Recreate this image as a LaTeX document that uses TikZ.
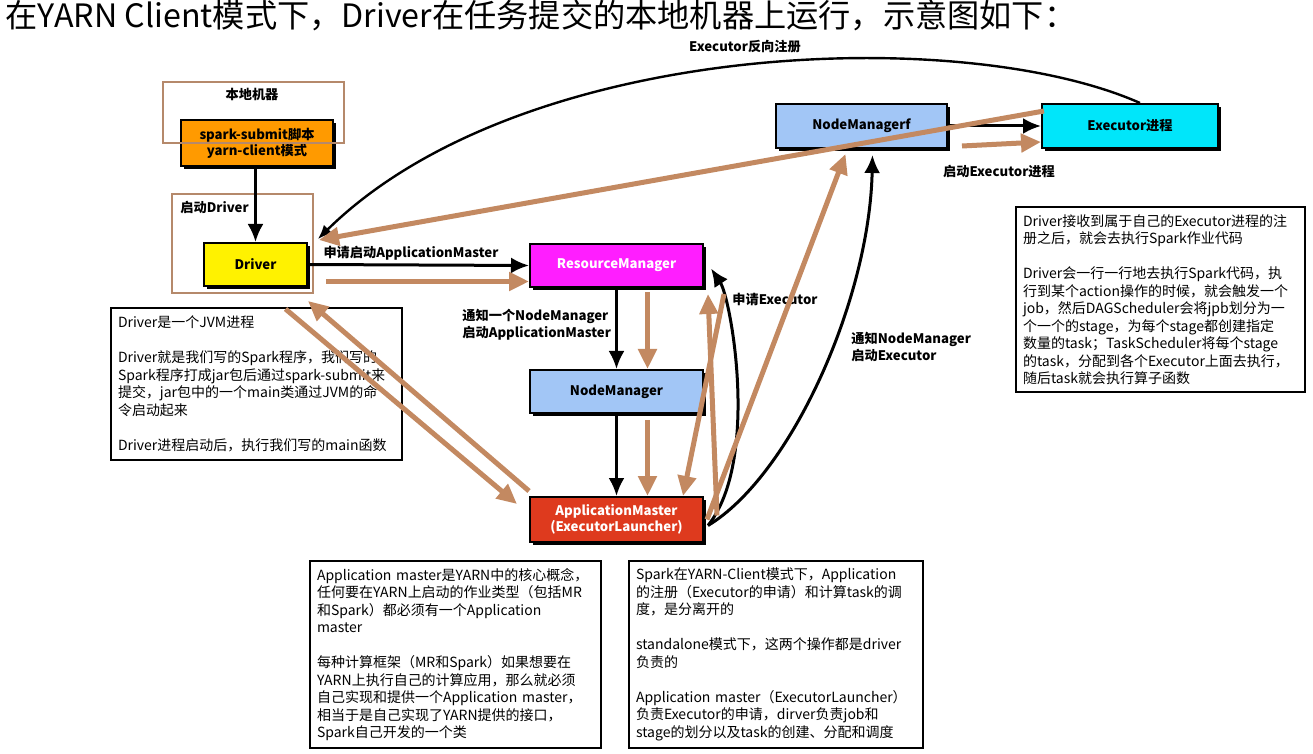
\documentclass[tikz,border=0pt]{standalone}
\usepackage{fontspec}
\setmainfont{Noto Sans CJK SC}
\usepackage{tikz}
\usetikzlibrary{arrows.meta,positioning,calc,shadows}
\definecolor{submitorange}{HTML}{FF9A00}
\definecolor{driveryellow}{HTML}{FFF200}
\definecolor{rmmagenta}{HTML}{FF1EFF}
\definecolor{nmblue}{HTML}{A2C6F6}
\definecolor{amred}{HTML}{DE3A1E}
\definecolor{execcyan}{HTML}{00E6FA}
\definecolor{tan}{HTML}{C38961}
\definecolor{framebrown}{HTML}{B5896B}

\begin{document}
\begin{tikzpicture}[x=0.5pt,y=-0.5pt,every node/.style={font=\fontsize{6.6}{8.3}\selectfont\bfseries,align=center,inner sep=1pt},box/.style={draw=black,line width=1pt,general shadow={fill=black,shadow xshift=1.5pt,shadow yshift=-1.5pt},minimum width=86.5pt,minimum height=21.5pt},note/.style={draw=black,line width=1.1pt,align=left,inner sep=3.5pt,font=\fontsize{7}{8.75}\selectfont},area/.style={draw=framebrown,line width=1.1pt},arr/.style={-{Latex[length=9pt,width=8pt]},line width=1.5pt},tarr/.style={-{Triangle[length=10pt,width=9pt]},line width=2.5pt,tan}]
\fill[white] (0,0) rectangle (1313,754);
\useasboundingbox (0,0) rectangle (1313,754);
\node[font=\fontsize{16.1}{19}\selectfont,anchor=base west,inner sep=0pt] (title) at (5,28) {在YARN Client模式下，Driver在任务提交的本地机器上运行，示意图如下：};
\node[box,fill=submitorange,minimum width=76pt,minimum height=23pt] (submit) at (257,143.5) {spark-submit脚本\\yarn-client模式};
\node[box,fill=driveryellow,minimum width=51.5pt] (driver) at (255.5,264.5) {Driver};
\node[box,fill=rmmagenta,text=white] (rm) at (616.5,265.5) {ResourceManager};
\node[box,fill=nmblue,below=40.5pt of rm] (nm) {NodeManager};
\node[box,fill=amred,text=white,minimum height=22.5pt,below=41pt of nm] (am) {ApplicationMaster\\(ExecutorLauncher)};
\node[box,fill=nmblue,minimum width=85.5pt,minimum height=22pt] (nmf) at (861.5,126) {NodeManagerf};
\node[box,fill=execcyan,minimum width=88pt,minimum height=22pt,right=46.5pt of nmf] (exec) {Executor进程};
\draw[area] (163,82) rectangle (344,143);
\draw[area] (172,194) rectangle (313,293);
\node (localtag) at (252,94) {本地机器};
\node[anchor=west] (drivertag) at (178,207) {启动Driver};
\node[note,minimum width=145.5pt,minimum height=76pt,text width=138.5pt] (drvnote) at (256.5,384) {Driver是一个JVM进程\\[8.75pt]
Driver就是我们写的Spark程序，我们写的\\
Spark程序打成jar包后通过spark-submit来\\
提交，jar包中的一个main类通过JVM的命\\
令启动起来\\[8.75pt]
Driver进程启动后，执行我们写的main函数};
\node[note,minimum width=144.5pt,minimum height=92.5pt,text width=137.5pt] (execnote) at (1160.5,299.5) {Driver接收到属于自己的Executor进程的注\\
册之后，就会去执行Spark作业代码\\[8.75pt]
Driver会一行一行地去执行Spark代码，执\\
行到某个action操作的时候，就会触发一个\\
job，然后DAGScheduler会将jpb划分为一\\
个一个的stage，为每个stage都创建指定\\
数量的task；TaskScheduler将每个stage\\
的task，分配到各个Executor上面去执行，\\
随后task就会执行算子函数};
\node[note,minimum width=145.5pt,minimum height=93.5pt,text width=138.5pt] (amnote) at (455.5,654.5) {Application master是YARN中的核心概念，\\
任何要在YARN上启动的作业类型（包括MR\\
和Spark）都必须有一个Application\\
master\\[8.75pt]
每种计算框架（MR和Spark）如果想要在\\
YARN上执行自己的计算应用，那么就必须\\
自己实现和提供一个Application master，\\
相当于是自己实现了YARN提供的接口，\\
Spark自己开发的一个类};
\node[note,minimum width=147pt,minimum height=93.5pt,text width=140pt] (modenote) at (776,654.5) {Spark在YARN-Client模式下，Application\\
的注册（Executor的申请）和计算task的调\\
度，是分离开的\\[8.75pt]
standalone模式下，这两个操作都是driver\\
负责的\\[8.75pt]
Application master（ExecutorLauncher）\\
负责Executor的申请，dirver负责job和\\
stage的划分以及task的创建、分配和调度};
\node (regtag) at (745,47) {Executor反向注册};
\node (launchtag) at (999,172) {启动Executor进程};
\node (amreqtag) at (411,253) {申请启动ApplicationMaster};
\node[align=left,anchor=west] (nmtag) at (460,325) {通知一个NodeManager\\启动ApplicationMaster};
\node[anchor=west] (exreqtag) at (730,299) {申请Executor};
\node[align=left,anchor=west] (nmftag) at (849,347) {通知NodeManager\\启动Executor};
\draw[arr] (driver.north |- submit.south) -- (driver.north);
\draw[arr] (driver.east) -- (rm.west);
\draw[arr] (rm.south) -- (nm.north);
\draw[arr] (nm.south) -- (am.north);
\draw[arr] (nmf.east) -- (exec.west);
\draw[arr] ($(am.east)+(4,6)$) .. controls +(52,-65) and +(20,30) .. ($(rm.east)+(7,3)$);
\draw[arr] ($(am.east)+(4,6)$) .. controls +(83,-50) and +(-3,145) .. ($(nmf.south)+(11,6)$);
\draw[line width=1.2pt,-{Latex[length=7pt,width=6pt]}] ($(exec.north)+(10,0)$) .. controls +(-178,-79) and +(203,-200) .. ($(driver.north east)+(10,-3)$);
\draw[tarr] ($(driver.east)+(18,17)$) -- ($(rm.west)+(0,16)$);
\draw[tarr] ($(rm.south)+(31,4)$) -- ($(nm.north)+(31,0)$);
\draw[tarr] ($(nm.south)+(31,6)$) -- ($(am.north)+(31,0)$);
\draw[tarr] ($(driver.south)+(30,22)$) -- ($(am.north west)+(-12,8)$);
\draw[tarr] ($(am.north west)+(0,-5)$) -- ($(driver.south east)+(0,14)$);
\draw[tarr] ($(am.east)+(13,-4)$) -- ($(rm.south east)+(4,6)$);
\draw[tarr] ($(rm.south east)+(20,6)$) -- ($(am.north east)+(-21,0)$);
\draw[tarr] ($(am.east)+(3,0)$) -- ($(nmf.south)+(-16,5)$);
\draw[tarr] ($(exec.north west)+(3,8)$) -- ($(driver.north east)+(11,-2)$);
\draw[tarr] ($(nmf.east)+(14,20)$) -- ($(exec.west)+(0,16)$);
\end{tikzpicture}
\end{document}
